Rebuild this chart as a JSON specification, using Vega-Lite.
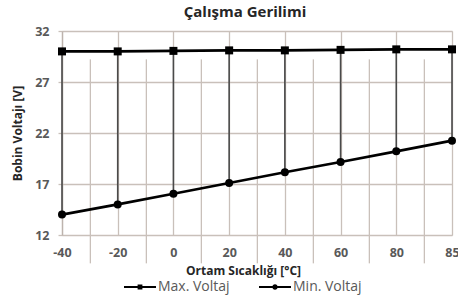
{
  "$schema": "https://vega.github.io/schema/vega-lite/v6.json",
  "width": 390,
  "height": 204,
  "autosize": {"type": "none"},
  "padding": {"left": 62, "top": 31, "right": 6, "bottom": 62},
  "background": "white",
  "title": {
    "text": "Çalışma Gerilimi",
    "font": "Open Sans",
    "fontSize": 15,
    "fontWeight": "bold",
    "color": "#262626",
    "anchor": "middle",
    "dx": -12,
    "offset": 5
  },
  "data": {
    "values": [
      {"t": "-40", "series": "Max. Voltaj", "v": 30.0},
      {"t": "-20", "series": "Max. Voltaj", "v": 30.0},
      {"t": "0", "series": "Max. Voltaj", "v": 30.05},
      {"t": "20", "series": "Max. Voltaj", "v": 30.1},
      {"t": "40", "series": "Max. Voltaj", "v": 30.1},
      {"t": "60", "series": "Max. Voltaj", "v": 30.15},
      {"t": "80", "series": "Max. Voltaj", "v": 30.2},
      {"t": "85", "series": "Max. Voltaj", "v": 30.2},
      {"t": "-40", "series": "Min. Voltaj", "v": 14.0},
      {"t": "-20", "series": "Min. Voltaj", "v": 15.0},
      {"t": "0", "series": "Min. Voltaj", "v": 16.05},
      {"t": "20", "series": "Min. Voltaj", "v": 17.1},
      {"t": "40", "series": "Min. Voltaj", "v": 18.15},
      {"t": "60", "series": "Min. Voltaj", "v": 19.15},
      {"t": "80", "series": "Min. Voltaj", "v": 20.2},
      {"t": "85", "series": "Min. Voltaj", "v": 21.25}
    ]
  },
  "resolve": {"axis": {"x": "independent", "y": "independent"}, "scale": {"shape": "independent"}},
  "layer": [
    {
      "mark": {"type": "rule", "color": "#4a4a4a", "strokeWidth": 1.6},
      "encoding": {
        "x": {
          "field": "t",
          "type": "ordinal",
          "sort": ["-40", "-20", "0", "20", "40", "60", "80", "85"],
          "scale": {"type": "point", "padding": 0},
          "axis": {
            "orient": "bottom",
            "title": "Ortam Sıcaklığı [°C]",
            "titleFont": "Open Sans",
            "titleFontSize": 12,
            "titleFontWeight": "bold",
            "titleColor": "#262626",
            "titleX": 181,
            "titleY": 35,
            "titleBaseline": "middle",
            "labelFont": "Open Sans",
            "labelFontSize": 12.5,
            "labelFontWeight": "bold",
            "labelColor": "#595959",
            "labelAngle": 0,
            "labelPadding": 11,
            "ticks": false,
            "domain": false,
            "grid": true,
            "gridColor": "#c9c0ba",
            "gridWidth": 1.3
          }
        },
        "y": {
          "aggregate": "min",
          "field": "v",
          "type": "quantitative",
          "scale": {"domain": [12, 32], "nice": false, "zero": false},
          "axis": {
            "values": [12, 17, 22, 27, 32],
            "title": "Bobin Voltajı [V]",
            "titleFont": "Open Sans",
            "titleFontSize": 12,
            "titleFontWeight": "bold",
            "titleColor": "#262626",
            "titlePadding": 10,
            "labelFont": "Open Sans",
            "labelFontSize": 12.5,
            "labelFontWeight": "bold",
            "labelColor": "#595959",
            "labelPadding": 9,
            "ticks": true,
            "tickSize": 4,
            "tickColor": "#c9c0ba",
            "tickWidth": 1.3,
            "domain": true,
            "domainColor": "#bdb3ad",
            "domainWidth": 1.3,
            "grid": true,
            "gridColor": "#c9c0ba",
            "gridWidth": 1.3
          }
        },
        "y2": {"aggregate": "max", "field": "v"}
      }
    },
    {
      "mark": {"type": "line", "color": "#000000", "strokeWidth": 2.6},
      "encoding": {
        "x": {
          "field": "t",
          "type": "ordinal",
          "sort": ["-40", "-20", "0", "20", "40", "60", "80", "85"],
          "scale": {"type": "point", "padding": 0},
          "axis": {
            "orient": "top",
            "translate": 28.36,
            "title": null,
            "labels": false,
            "ticks": false,
            "domain": false,
            "grid": true,
            "gridColor": "#c9c0ba",
            "gridWidth": 1.3
          }
        },
        "y": {"field": "v", "type": "quantitative", "axis": null},
        "detail": {"field": "series"}
      }
    },
    {
      "mark": {"type": "point", "filled": true, "color": "#000000", "opacity": 1, "size": 64},
      "encoding": {
        "x": {
          "field": "t",
          "type": "ordinal",
          "sort": ["-40", "-20", "0", "20", "40", "60", "80", "85"],
          "axis": null
        },
        "y": {"field": "v", "type": "quantitative", "axis": null},
        "shape": {
          "field": "series",
          "type": "nominal",
          "scale": {"domain": ["Max. Voltaj", "Min. Voltaj"], "range": ["square", "circle"]},
          "legend": null
        }
      }
    },
    {
      "mark": {"type": "point", "filled": true, "color": "#000000", "opacity": 0, "size": 64},
      "encoding": {
        "x": {
          "field": "t",
          "type": "ordinal",
          "sort": ["-40", "-20", "0", "20", "40", "60", "80", "85"],
          "axis": null
        },
        "y": {"field": "v", "type": "quantitative", "axis": null},
        "shape": {
          "field": "series",
          "type": "nominal",
          "scale": {
            "domain": ["Max. Voltaj", "Min. Voltaj"],
            "range": [
              "M-1,-0.06L-0.15,-0.06L-0.15,0.06L-1,0.06ZM0.15,-0.06L1,-0.06L1,0.06L0.15,0.06ZM-0.15,-0.15L0.15,-0.15L0.15,0.15L-0.15,0.15Z",
              "M-1,-0.06L-0.16,-0.06L-0.16,0.06L-1,0.06ZM0.16,-0.06L1,-0.06L1,0.06L0.16,0.06ZM0.17,0A0.17,0.17 0 1,1 -0.17,0A0.17,0.17 0 1,1 0.17,0Z"
            ]
          },
          "legend": {
            "orient": "none",
            "legendX": 61,
            "legendY": 239,
            "direction": "horizontal",
            "title": null,
            "symbolSize": 1024,
            "symbolOpacity": 1,
            "symbolFillColor": "#000000",
            "labelFont": "Open Sans",
            "labelFontSize": 14,
            "labelColor": "#595959",
            "labelOffset": 1,
            "columnPadding": 26
          }
        }
      }
    }
  ]
}
